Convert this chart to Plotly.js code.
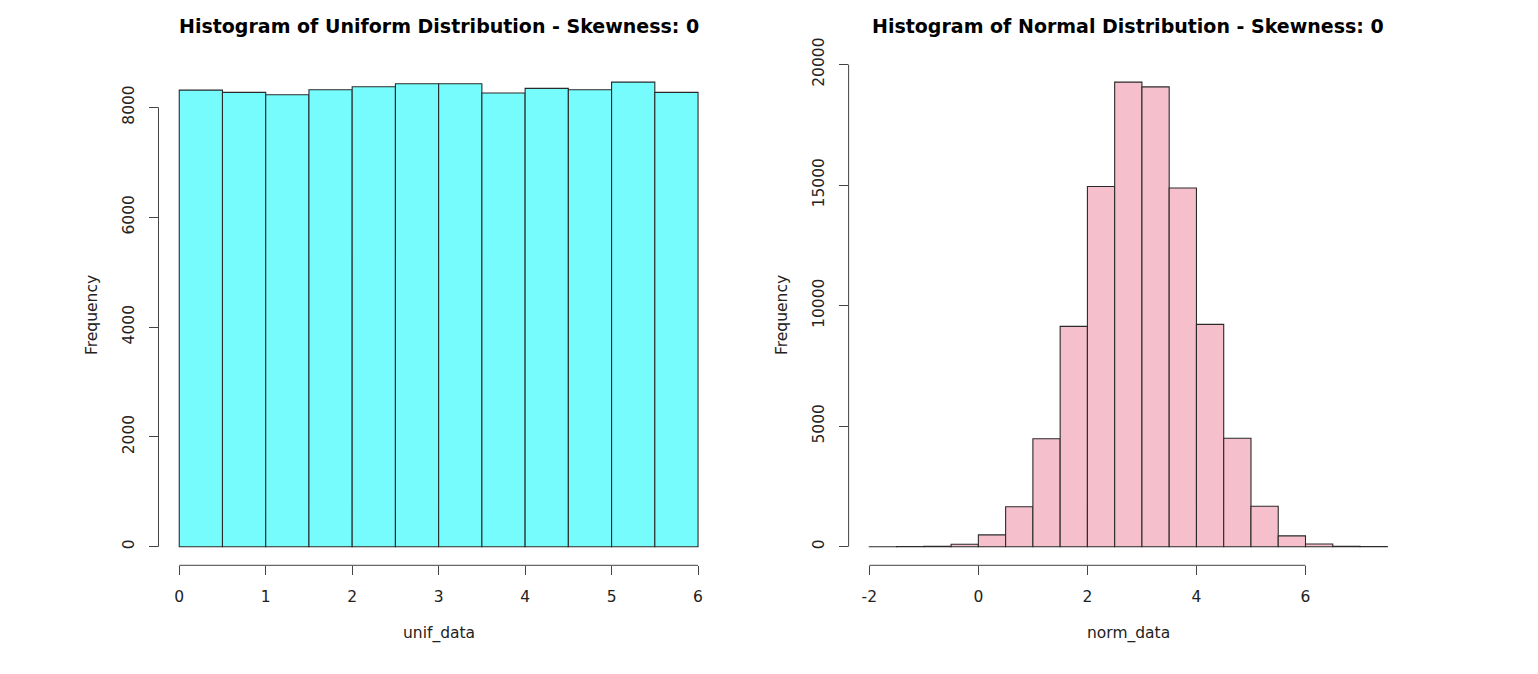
<!DOCTYPE html>
<html>
<head>
<meta charset="utf-8">
<script src="https://cdn.plot.ly/plotly-3.0.1.min.js"></script>
<style>html,body{margin:0;padding:0;background:#fff;}#chart{width:1538px;height:674px;}</style>
</head>
<body>
<div id="chart"></div>
<script>
// ---- data ----
const unifBreaks = [0, 0.5, 1, 1.5, 2, 2.5, 3, 3.5, 4, 4.5, 5, 5.5, 6];
const unifCounts = [8313, 8271, 8228, 8319, 8373, 8428, 8428, 8259, 8344, 8319, 8459, 8271];
const normBreaks = [-2, -1.5, -1, -0.5, 0, 0.5, 1, 1.5, 2, 2.5, 3, 3.5, 4, 4.5, 5, 5.5, 6, 6.5, 7, 7.5];
const normCounts = [1, 4, 22, 100, 490, 1660, 4480, 9140, 14940, 19270, 19070, 14880, 9220, 4500, 1680, 450, 110, 22, 3];
const unifXTicks = [0, 1, 2, 3, 4, 5, 6];
const unifYTicks = [0, 2000, 4000, 6000, 8000];
const normXTicks = [-2, 0, 2, 4, 6];
const normYTicks = [0, 5000, 10000, 15000, 20000];
const titles = ["Histogram of Uniform Distribution - Skewness: 0", "Histogram of Normal Distribution - Skewness: 0"];
const xLabels = ["unif_data", "norm_data"];
const yLabel = "Frequency";

function mids(b) { const m = []; for (let i = 0; i < b.length - 1; i++) m.push((b[i] + b[i + 1]) / 2); return m; }
function widths(b) { const w = []; for (let i = 0; i < b.length - 1; i++) w.push(b[i + 1] - b[i]); return w; }
function ext(lo, hi) { const d = (hi - lo) * 0.04; return [lo - d, hi + d]; }

const W = 1538, H = 674;
const fontFam = "DejaVu Sans, sans-serif";
const axCol = "#444";
const tickSize = 15.5;

const traces = [
  { type: "bar", x: mids(unifBreaks), y: unifCounts, width: widths(unifBreaks),
    marker: { color: "rgb(118,252,253)", line: { color: "#2a2a2a", width: 1.1 } }, xaxis: "x", yaxis: "y", hoverinfo: "x+y" },
  { type: "bar", x: mids(normBreaks), y: normCounts, width: widths(normBreaks),
    marker: { color: "rgb(245,191,204)", line: { color: "#2a2a2a", width: 1.1 } }, xaxis: "x2", yaxis: "y2", hoverinfo: "x+y" }
];

const yDom = [(H - 565.3) / H, (H - 63.5) / H];
const x1Dom = [158.5 / W, 718.8 / W];
const x2Dom = [848.6 / W, 1408 / W];

function xax(dom, rng, ticks, anchor) {
  return { domain: dom, range: rng, tickvals: ticks, ticktext: ticks.map(String), ticks: "outside", ticklen: 9,
    tickcolor: axCol, tickwidth: 1, showline: false, zeroline: false, showgrid: false, anchor: anchor,
    ticklabelstandoff: 8,
    tickfont: { family: fontFam, size: tickSize, color: "#222" }, fixedrange: true };
}
function yax(rng, ticks, anchor) {
  return { domain: yDom, range: rng, tickvals: ticks, ticktext: ticks.map(String), ticks: "outside", ticklen: 9,
    tickcolor: axCol, tickwidth: 1, showline: false, zeroline: false, showgrid: false, anchor: anchor, tickangle: -90,
    ticklabelstandoff: 8,
    tickfont: { family: fontFam, size: tickSize, color: "#222" }, fixedrange: true };
}

const uMax = Math.max(...unifCounts), nMax = Math.max(...normCounts);

const shapes = [
  { type: "line", xref: "x", yref: "y domain", x0: unifXTicks[0], x1: unifXTicks[unifXTicks.length - 1], y0: 0, y1: 0, line: { color: axCol, width: 1 } },
  { type: "line", xref: "x domain", yref: "y", x0: 0, x1: 0, y0: unifYTicks[0], y1: unifYTicks[unifYTicks.length - 1], line: { color: axCol, width: 1 } },
  { type: "line", xref: "x2", yref: "y2 domain", x0: normXTicks[0], x1: normXTicks[normXTicks.length - 1], y0: 0, y1: 0, line: { color: axCol, width: 1 } },
  { type: "line", xref: "x2 domain", yref: "y2", x0: 0, x1: 0, y0: normYTicks[0], y1: normYTicks[normYTicks.length - 1], line: { color: axCol, width: 1 } }
];

const ann = [];
const centers = [(x1Dom[0] + x1Dom[1]) / 2, (x2Dom[0] + x2Dom[1]) / 2];
const yLabX = [92 / W, 782 / W];
for (let i = 0; i < 2; i++) {
  ann.push({ text: "<b>" + titles[i] + "</b>", xref: "paper", yref: "paper", x: centers[i], y: (H - 26) / H,
    xanchor: "center", yanchor: "middle", showarrow: false, font: { family: fontFam, size: 19, color: "#000" } });
  ann.push({ text: xLabels[i], xref: "paper", yref: "paper", x: centers[i], y: (H - 633) / H,
    xanchor: "center", yanchor: "middle", showarrow: false, font: { family: fontFam, size: 15.5, color: "#222" } });
  ann.push({ text: yLabel, xref: "paper", yref: "paper", x: yLabX[i], y: (H - 315) / H, textangle: -90,
    xanchor: "center", yanchor: "middle", showarrow: false, font: { family: fontFam, size: 15.5, color: "#222" } });
}

const layout = {
  width: W, height: H, margin: { l: 0, r: 0, t: 0, b: 0 }, showlegend: false,
  paper_bgcolor: "#fff", plot_bgcolor: "#fff",
  xaxis: xax(x1Dom, ext(unifBreaks[0], unifBreaks[unifBreaks.length - 1]), unifXTicks, "y"),
  yaxis: yax(ext(0, uMax), unifYTicks, "x"),
  xaxis2: xax(x2Dom, ext(normBreaks[0], normBreaks[normBreaks.length - 1]), normXTicks, "y2"),
  yaxis2: yax(ext(0, nMax), normYTicks, "x2"),
  shapes: shapes, annotations: ann
};

Plotly.newPlot("chart", traces, layout, { displayModeBar: false, staticPlot: true });
</script>
</body>
</html>
